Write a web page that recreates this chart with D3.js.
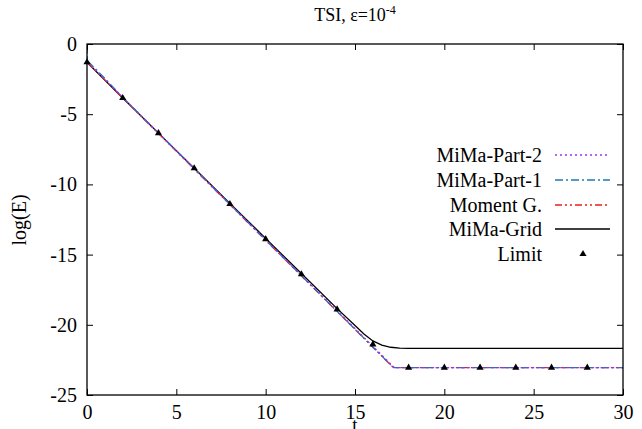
<!DOCTYPE html>
<html><head><meta charset="utf-8">
<script src="https://cdn.jsdelivr.net/npm/d3@7"></script>
<style>body{margin:0;background:#fff}svg{display:block}</style>
</head><body>
<script>
// Data
const gridT   = [0, 2, 4, 6, 8, 10, 12, 14, 15, 15.5, 16, 16.5, 17, 17.5, 18, 30];
const gridE   = [-1.3, -3.85, -6.35, -8.85, -11.35, -13.85, -16.35, -18.85, -20.05, -20.65, -21.15, -21.45, -21.6, -21.66, -21.68, -21.68];
const momT    = [0, 17.15, 30];
const momE    = [-1.3, -23.05, -23.05];
const part1T  = [0, 0.03, 1, 2, 17.15, 30];
const part1E  = [-0.1, -1.2, -2.45, -3.8, -23.05, -23.05];
const part2T  = [0, 0.03, 2, 17.2, 30];
const part2E  = [-1.0, -1.3, -3.8, -23.05, -23.05];
const limitT  = [0, 2, 4, 6, 8, 10, 12, 14, 16, 18, 20, 22, 24, 26, 28];
const limitE  = [-1.3, -3.85, -6.35, -8.85, -11.4, -13.9, -16.4, -18.9, -21.4, -23.05, -23.05, -23.05, -23.05, -23.05, -23.05];
const xTicks  = [0, 5, 10, 15, 20, 25, 30];
const yTicks  = [0, -5, -10, -15, -20, -25];
const seriesNames = ["MiMa-Part-2", "MiMa-Part-1", "Moment G.", "MiMa-Grid", "Limit"];

const FONT = '"Liberation Serif", "Times New Roman", serif';
const W = 642, H = 429;
const m = {l: 87, r: 623, t: 44, b: 395};
const svg = d3.select("body").append("svg").attr("width", W).attr("height", H);
const x = d3.scaleLinear().domain([0, 30]).range([m.l, m.r]);
const y = d3.scaleLinear().domain([-25, 0]).range([m.b, m.t]);

const line = d3.line().x(d => x(d[0])).y(d => y(d[1]));
const zip = (a, b) => a.map((v, i) => [v, b[i]]);

const series = [
  {name: "MiMa-Grid",   data: zip(gridT, gridE),  color: "#000000", dash: null, w: 1.3},
  {name: "Moment G.",   data: zip(momT, momE),    color: "#e8201a", dash: "7,3,2,3,2,3", w: 1.3},
  {name: "MiMa-Part-1", data: zip(part1T, part1E), color: "#1f77b4", dash: "8,3,2,3", w: 1.3},
  {name: "MiMa-Part-2", data: zip(part2T, part2E), color: "#9b30ff", dash: "2,3", w: 1.3},
];

svg.append("clipPath").attr("id", "c").append("rect")
  .attr("x", m.l).attr("y", m.t).attr("width", m.r - m.l).attr("height", m.b - m.t);

const g = svg.append("g").attr("clip-path", "url(#c)");
series.forEach(s => {
  g.append("path").attr("d", line(s.data)).attr("fill", "none")
    .attr("stroke", s.color).attr("stroke-width", s.w)
    .attr("stroke-dasharray", s.dash);
});

const tri = d3.symbol().type(d3.symbolTriangle).size(22);
svg.append("g").selectAll("path").data(zip(limitT, limitE)).join("path")
  .attr("d", tri).attr("transform", d => `translate(${x(d[0])},${y(d[1])})`)
  .attr("fill", "#000");

// frame
svg.append("rect").attr("x", m.l).attr("y", m.t).attr("width", m.r - m.l).attr("height", m.b - m.t)
  .attr("fill", "none").attr("stroke", "#000").attr("stroke-width", 1.3);

// axes with inward ticks
const fmt = d => String(d);
const axB = d3.axisBottom(x).tickValues(xTicks).tickSize(-6).tickPadding(10).tickFormat(fmt);
const axT = d3.axisTop(x).tickValues(xTicks).tickSize(-6).tickFormat("");
const axL = d3.axisLeft(y).tickValues(yTicks).tickSize(-6).tickPadding(10).tickFormat(fmt);
const axR = d3.axisRight(y).tickValues(yTicks).tickSize(-6).tickFormat("");
[[axB, `translate(0,${m.b})`], [axT, `translate(0,${m.t})`], [axL, `translate(${m.l},0)`], [axR, `translate(${m.r},0)`]]
  .forEach(([a, tr]) => {
    const gg = svg.append("g").attr("transform", tr).call(a);
    gg.attr("font-family", FONT).attr("font-size", 20);
    gg.select(".domain").remove();
    gg.selectAll("line").attr("stroke", "#000").attr("stroke-width", 1);
    gg.selectAll("text").attr("fill", "#000");
  });

function txt(sel) { return sel.style("font-family", FONT).attr("fill", "#000"); }

// title
const title = txt(svg.append("text")).attr("x", 355).attr("y", 21).attr("text-anchor", "middle").style("font-size", "18px");
title.append("tspan").text("TSI, ε=10");
title.append("tspan").attr("dy", -7).style("font-size", "12px").text("-4");

// axis labels
txt(svg.append("text")).attr("x", 355).attr("y", 431).attr("text-anchor", "middle").style("font-size", "19px").text("t");
txt(svg.append("text")).attr("transform", "translate(26,220) rotate(-90)").attr("text-anchor", "middle").style("font-size", "20px").text("log(E)");

// legend
const legY = [155, 180, 205, 229, 254];
const legStyle = {
  "MiMa-Part-2": series[3], "MiMa-Part-1": series[2], "Moment G.": series[1], "MiMa-Grid": series[0]
};
seriesNames.forEach((n, i) => {
  txt(svg.append("text")).attr("x", 542).attr("y", legY[i]).attr("dy", "0.35em")
    .attr("text-anchor", "end").style("font-size", "20px").text(n);
  if (legStyle[n]) {
    const s = legStyle[n];
    svg.append("line").attr("x1", 555).attr("x2", 610).attr("y1", legY[i]).attr("y2", legY[i])
      .attr("stroke", s.color).attr("stroke-width", s.w).attr("stroke-dasharray", s.dash);
  } else {
    svg.append("path").attr("d", tri).attr("transform", `translate(583,${legY[i]})`).attr("fill", "#000");
  }
});
</script>
</body></html>
